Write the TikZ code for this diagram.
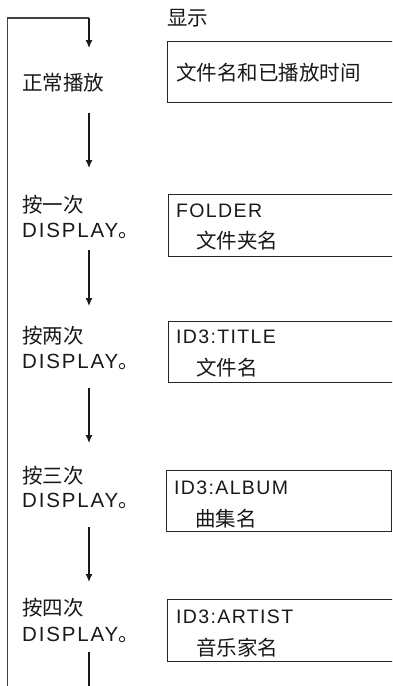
\documentclass[tikz,border=0pt]{standalone}
\usepackage{fontspec}
\setmainfont{Liberation Sans}
\newfontfamily\cjk{Noto Sans CJK SC}
\newfontfamily\lspA{Liberation Sans}[LetterSpace=9]
\newfontfamily\lspB{Liberation Sans}[LetterSpace=7]
\usetikzlibrary{arrows.meta}
\begin{document}
\begin{tikzpicture}[x=1pt,y=-1pt,
  txt/.style={anchor=base west, inner sep=0pt, text=black!90, font=\fontsize{19.5}{24}\selectfont},
  cj/.style={txt, font=\fontsize{20.5}{24}\selectfont\cjk},
  scr/.style={draw=black!85, line width=1.3pt, anchor=north west, minimum width=240pt, inner sep=0pt},
  flow/.style={line width=1.2pt, draw=black!90, -{Latex[length=8pt,width=7pt]}},
  plain/.style={line width=1.2pt, draw=black!90},
  loopline/.style={line width=1.4pt, draw=black!75}]
\clip (0,0) rectangle (392,686);
\fill[white] (0,0) rectangle (392,686);

% screens
\node[scr, minimum height=61pt] (b1) at (167,41) {};
\node[scr, minimum height=62pt] (b2) at (168,194) {};
\node[scr, minimum height=61pt] (b3) at (168,321) {};
\node[scr, minimum height=61pt, minimum width=224.5pt] (b4) at (166,470) {};
\node[scr, minimum height=62pt] (b5) at (167,599) {};

% header
\node[cj] (hd) at (167,25) {显示};

% screen texts
\node[cj] (s1) at (176,80) {文件名和已播放时间};
\node[txt] (s2a) at (176,217) {\lspB FOLDER};
\node[cj] (s2b) at (196,248) {文件夹名};
\node[txt] (s3a) at (176,343) {\lspB ID3:TITLE};
\node[cj] (s3b) at (196,375) {文件名};
\node[txt] (s4a) at (174,494) {\lspB ID3:ALBUM};
\node[cj] (s4b) at (195,526) {曲集名};
\node[txt] (s5a) at (176,623) {\lspB ID3:ARTIST};
\node[cj] (s5b) at (196,655) {音乐家名};

% left labels
\node[cj] (l0) at (22,90) {正常播放};
\node[cj] (l1a) at (22,212) {按一次};
\node[txt, font=\fontsize{20.5}{24}\selectfont] (l1b) at (22,237) {\lspA DISPLAY{\cjk 。}};
\node[cj] (l2a) at (22,343) {按两次};
\node[txt, font=\fontsize{20.5}{24}\selectfont] (l2b) at (22,368) {\lspA DISPLAY{\cjk 。}};
\node[cj] (l3a) at (22,483) {按三次};
\node[txt, font=\fontsize{20.5}{24}\selectfont] (l3b) at (22,507) {\lspA DISPLAY{\cjk 。}};
\node[cj] (l4a) at (22,615) {按四次};
\node[txt, font=\fontsize{20.5}{24}\selectfont] (l4b) at (22,641) {\lspA DISPLAY{\cjk 。}};

% connector coordinates
\coordinate (lb) at (7.5,690);
\coordinate (lt) at (7.5,18);
\coordinate (tr) at (89,18);
\coordinate (t0) at (89,48);
\coordinate (a1s) at (89,113);
\coordinate (a1e) at (89,168);
\coordinate (a2s) at (89,250);
\coordinate (a2e) at (89,306);
\coordinate (a3s) at (89,388);
\coordinate (a3e) at (89,443);
\coordinate (a4s) at (89,527);
\coordinate (a4e) at (89,582);
\coordinate (a5s) at (89,652);
\coordinate (a5e) at (89,690);

\draw[loopline] (lb) -- (lt) -- (tr);
\draw[flow] (tr) -- (t0);
\draw[flow] (a1s) -- (a1e);
\draw[flow] (a2s) -- (a2e);
\draw[flow] (a3s) -- (a3e);
\draw[flow] (a4s) -- (a4e);
\draw[plain] (a5s) -- (a5e);
\end{tikzpicture}
\end{document}
